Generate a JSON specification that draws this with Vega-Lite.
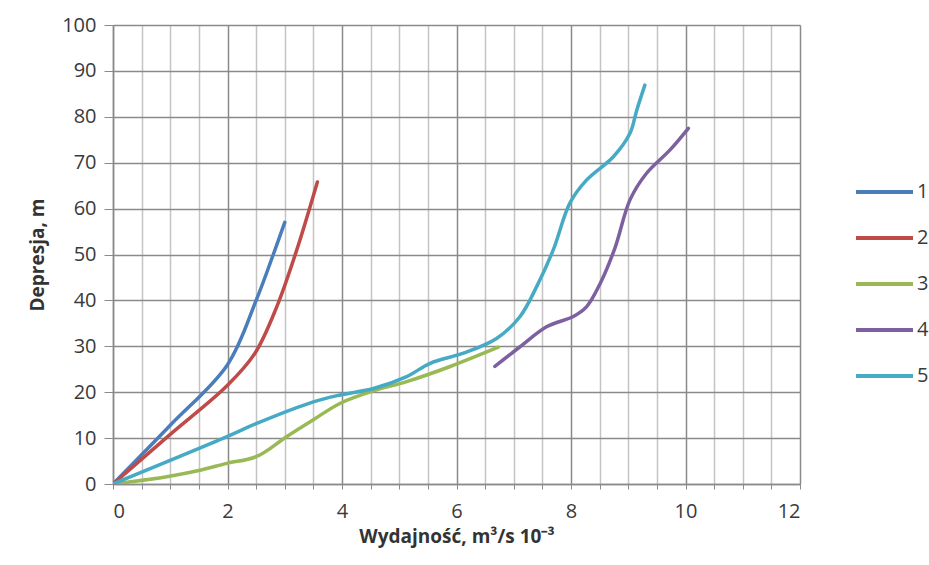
{
  "$schema": "https://vega.github.io/schema/vega-lite/v6.json",
  "width": 687,
  "height": 459,
  "autosize": "none",
  "padding": {"left": 113, "top": 25, "right": 129, "bottom": 81},
  "background": "white",
  "config": {"view": {"stroke": null}, "font": "Open Sans"},
  "data": {
    "values": [
      {"s": "1", "x": 0, "y": 0},
      {"s": "1", "x": 1, "y": 12.8},
      {"s": "1", "x": 2, "y": 26},
      {"s": "1", "x": 2.5, "y": 40},
      {"s": "1", "x": 2.8, "y": 50},
      {"s": "1", "x": 3.0, "y": 57},
      {"s": "2", "x": 0, "y": 0},
      {"s": "2", "x": 1, "y": 10.8},
      {"s": "2", "x": 2, "y": 21.5},
      {"s": "2", "x": 2.48, "y": 28.5},
      {"s": "2", "x": 2.86, "y": 38.6},
      {"s": "2", "x": 3.21, "y": 51},
      {"s": "2", "x": 3.57, "y": 65.8},
      {"s": "3", "x": 0, "y": 0},
      {"s": "3", "x": 0.94, "y": 1.6},
      {"s": "3", "x": 1.52, "y": 3},
      {"s": "3", "x": 1.99, "y": 4.5},
      {"s": "3", "x": 2.51, "y": 6},
      {"s": "3", "x": 3.03, "y": 10.3},
      {"s": "3", "x": 3.5, "y": 14},
      {"s": "3", "x": 3.97, "y": 17.6},
      {"s": "3", "x": 4.55, "y": 20.3},
      {"s": "3", "x": 5.13, "y": 22.3},
      {"s": "3", "x": 5.89, "y": 25.6},
      {"s": "3", "x": 6.73, "y": 29.8},
      {"s": "4", "x": 6.67, "y": 25.6},
      {"s": "4", "x": 7.11, "y": 29.9},
      {"s": "4", "x": 7.58, "y": 34.3},
      {"s": "4", "x": 8.04, "y": 36.5},
      {"s": "4", "x": 8.27, "y": 38.6},
      {"s": "4", "x": 8.51, "y": 43.7},
      {"s": "4", "x": 8.77, "y": 51.5},
      {"s": "4", "x": 9.03, "y": 61.9},
      {"s": "4", "x": 9.32, "y": 67.7},
      {"s": "4", "x": 9.73, "y": 72.8},
      {"s": "4", "x": 10.05, "y": 77.5},
      {"s": "5", "x": 0, "y": 0},
      {"s": "5", "x": 1.99, "y": 10.3},
      {"s": "5", "x": 2.51, "y": 13.2},
      {"s": "5", "x": 3.5, "y": 17.9},
      {"s": "5", "x": 3.97, "y": 19.4},
      {"s": "5", "x": 4.55, "y": 20.8},
      {"s": "5", "x": 5.13, "y": 23.4},
      {"s": "5", "x": 5.54, "y": 26.3},
      {"s": "5", "x": 6.12, "y": 28.5},
      {"s": "5", "x": 6.7, "y": 31.7},
      {"s": "5", "x": 7.11, "y": 36.5},
      {"s": "5", "x": 7.4, "y": 43},
      {"s": "5", "x": 7.69, "y": 51},
      {"s": "5", "x": 7.98, "y": 61.2},
      {"s": "5", "x": 8.27, "y": 66.2},
      {"s": "5", "x": 8.74, "y": 71.3},
      {"s": "5", "x": 9.03, "y": 76.4},
      {"s": "5", "x": 9.15, "y": 81.5},
      {"s": "5", "x": 9.29, "y": 86.9}
    ]
  },
  "mark": {"type": "line", "interpolate": "catmull-rom", "strokeWidth": 3.5, "strokeCap": "round", "clip": true},
  "encoding": {
    "x": {
      "field": "x", "type": "quantitative",
      "scale": {"domain": [0, 12], "nice": false, "zero": true},
      "axis": {
        "values": [0,0.5,1,1.5,2,2.5,3,3.5,4,4.5,5,5.5,6,6.5,7,7.5,8,8.5,9,9.5,10,10.5,11,11.5,12],
        "labelExpr": "datum.value % 2 === 0 ? format(datum.value, 'd') : ''",
        "grid": true,
        "gridColor": {"condition": {"test": "datum.value % 2 === 0", "value": "#8a8a8a"}, "value": "#c4c4c4"},
        "gridWidth": 1.5,
        "domain": true, "domainColor": "#8a8a8a", "domainWidth": 1.5,
        "ticks": true, "tickSize": 5, "tickColor": "#8a8a8a",
        "labelFontSize": 20, "labelColor": "#3a3a3a", "labelPadding": 12,
        "title": "Wydajność, m³/s 10⁻³",
        "titleFontSize": 19, "titleFontWeight": "bold", "titleColor": "#333333", "titlePadding": 6
      }
    },
    "y": {
      "field": "y", "type": "quantitative",
      "scale": {"domain": [0, 100], "nice": false},
      "axis": {
        "values": [0,10,20,30,40,50,60,70,80,90,100],
        "grid": true, "gridColor": "#8a8a8a", "gridWidth": 1.5,
        "domain": true, "domainColor": "#8a8a8a", "domainWidth": 1.5,
        "ticks": true, "tickSize": 9, "tickColor": "#8a8a8a",
        "labelFontSize": 20, "labelColor": "#3a3a3a", "labelPadding": 8,
        "title": "Depresja, m",
        "titleFontSize": 19, "titleFontWeight": "bold", "titleColor": "#333333", "titlePadding": 14
      }
    },
    "color": {
      "field": "s", "type": "nominal",
      "scale": {"domain": ["1","2","3","4","5"], "range": ["#4A7EBB", "#BE4B48", "#98B954", "#7D60A0", "#46AAC5"]},
      "legend": {
        "title": null, "orient": "none", "legendX": 741, "legendY": 157,
        "symbolType": "stroke", "symbolSize": 3249, "symbolStrokeWidth": 4,
        "clipHeight": 20, "rowPadding": 26, "labelOffset": 2,
        "labelFontSize": 20, "labelColor": "#3a3a3a"
      }
    }
  }
}
